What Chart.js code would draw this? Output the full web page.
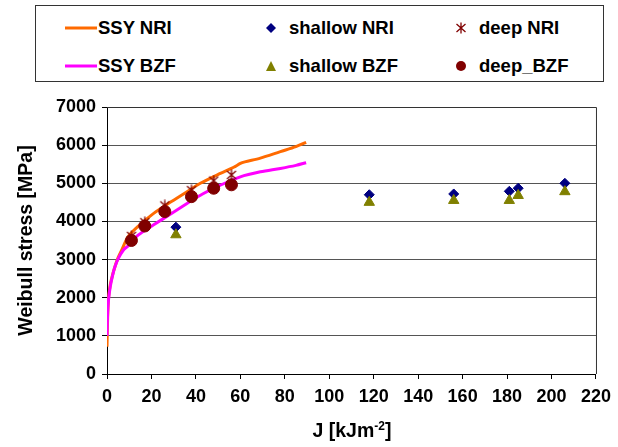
<!DOCTYPE html>
<html>
<head>
<meta charset="utf-8">
<script src="https://cdn.jsdelivr.net/npm/chart.js@4.4.0/dist/chart.umd.min.js"></script>
<style>
  body { margin: 0; background: #fff; font-family: 'Liberation Sans', Arial, sans-serif; }
  #wrap { position: relative; width: 618px; height: 447px; }
  #legend { position: absolute; left: 35px; top: 5px; width: 569px; height: 77px; border: 1px solid #333; box-sizing: border-box; background: #fff; }
  .item { position: absolute; font-weight: bold; font-size: 18.5px; line-height: 20px; color: #000; white-space: nowrap; }
  .icon { position: absolute; }
  #xtitle { position: absolute; left: 0; width: 704px; top: 419px; text-align: center; font-weight: bold; font-size: 19.5px; line-height: 22px; }
  #xtitle sup { font-size: 12px; vertical-align: 7px; line-height: 0; }
</style>
</head>
<body>
<div id="wrap">
  <canvas id="chart" width="618" height="447"></canvas>
  <div id="legend"></div>
  <div id="xtitle">J [kJm<sup>-2</sup>]</div>
</div>
<script>
// Dados
const ssyNriJ = [0, 0.3, 0.7, 1.5, 2.5, 3.5, 5, 7, 9.5, 14, 21, 29, 36, 42, 51, 57, 60, 62, 69, 78, 85, 89.6];
const ssyNriS = [716, 1500, 2000, 2350, 2600, 2800, 3050, 3300, 3600, 3870, 4210, 4520, 4780, 5000, 5260, 5420, 5520, 5560, 5660, 5830, 5960, 6075];

const ssyBzfJ = [0, 0.3, 0.7, 1.5, 2.5, 3.5, 5, 7.4, 9.5, 14, 21, 29, 36, 43, 51, 60, 69, 78, 85, 89.6];
const ssyBzfS = [1000, 1600, 1950, 2300, 2580, 2800, 3020, 3250, 3360, 3640, 3910, 4210, 4470, 4720, 4950, 5170, 5300, 5390, 5470, 5540];

const shallowJ = [31, 118, 156, 181, 185, 206];
const shallowNri = [3850, 4700, 4720, 4790, 4870, 5000];
const shallowBzf = [3650, 4500, 4550, 4550, 4680, 4780];

const deepJ = [11, 17, 26, 38, 48, 56];
const deepNri = [3620, 3980, 4420, 4820, 5070, 5220];
const deepBzf = [3500, 3880, 4260, 4650, 4870, 4960];

const xTicks = [0, 20, 40, 60, 80, 100, 120, 140, 160, 180, 200, 220];
const yTicks = [0, 1000, 2000, 3000, 4000, 5000, 6000, 7000];

const labels = ['SSY NRI', 'SSY BZF', 'shallow NRI', 'shallow BZF', 'deep NRI', 'deep_BZF'];
const orange = '#FF6A00';
const magenta = '#FF00FF';
const navy = '#000080';
const olive = '#808000';
const darkRed = '#800000';

function pts(xs, ys) {
    return xs.map((x, i) => ({ x: x, y: ys[i] }));
}

// asterisco de 6 pontas
const star = document.createElement('canvas');
star.width = 12; star.height = 12;
(function () {
    const c = star.getContext('2d');
    c.strokeStyle = darkRed;
    c.lineWidth = 1.3;
    c.beginPath();
    c.moveTo(6, 0.5); c.lineTo(6, 11.5);
    c.moveTo(1.5, 2); c.lineTo(10.5, 10);
    c.moveTo(10.5, 2); c.lineTo(1.5, 10);
    c.stroke();
})();

const frame = {
    id: 'frame',
    afterDraw(chart) {
        const a = chart.chartArea;
        const ctx = chart.ctx;
        ctx.save();
        ctx.strokeStyle = '#333';
        ctx.lineWidth = 1;
        ctx.beginPath();
        ctx.moveTo(a.left, a.top + 0.5);
        ctx.lineTo(a.right + 0.5, a.top + 0.5);
        ctx.lineTo(a.right + 0.5, a.bottom);
        ctx.stroke();
        ctx.restore();
    }
};

const tickFont = { family: 'Liberation Sans', size: 18, weight: 'bold' };

new Chart(document.getElementById('chart'), {
    type: 'scatter',
    data: {
        datasets: [
            { label: labels[0], data: pts(ssyNriJ, ssyNriS), showLine: true, borderColor: orange, backgroundColor: orange, borderWidth: 3, pointRadius: 0, tension: 0.3, order: 6 },
            { label: labels[1], data: pts(ssyBzfJ, ssyBzfS), showLine: true, borderColor: magenta, backgroundColor: magenta, borderWidth: 3, pointRadius: 0, tension: 0.3, order: 5 },
            { label: labels[2], data: pts(shallowJ, shallowNri), pointStyle: 'rectRot', pointRadius: 5, backgroundColor: navy, borderColor: navy, order: 4 },
            { label: labels[3], data: pts(shallowJ, shallowBzf), pointStyle: 'triangle', pointRadius: 6, backgroundColor: olive, borderColor: olive, order: 3 },
            { label: labels[4], data: pts(deepJ, deepNri), pointStyle: star, order: 2 },
            { label: labels[5], data: pts(deepJ, deepBzf), pointStyle: 'circle', pointRadius: 6, backgroundColor: darkRed, borderColor: darkRed, order: 1 }
        ]
    },
    options: {
        responsive: false,
        animation: false,
        layout: { padding: { top: 107, right: 22, left: 0, bottom: 0 } },
        plugins: { legend: { display: false }, tooltip: { enabled: false } },
        scales: {
            x: {
                type: 'linear', min: 0, max: 220,
                afterBuildTicks: (s) => { s.ticks = xTicks.map(v => ({ value: v })); },
                afterFit: (s) => { s.height = 73; },
                grid: { drawOnChartArea: false, drawTicks: true, tickLength: 5, tickColor: '#000' },
                border: { color: '#000' },
                ticks: { color: '#000', padding: 7, maxRotation: 0, font: tickFont, callback: (v) => String(v) }
            },
            y: {
                type: 'linear', min: 0, max: 7000,
                afterBuildTicks: (s) => { s.ticks = yTicks.map(v => ({ value: v })); },
                afterFit: (s) => { s.width = 107; },
                grid: { color: '#555', drawTicks: true, tickLength: 5, tickColor: '#000' },
                border: { color: '#000' },
                ticks: { color: '#000', padding: 6, font: tickFont, callback: (v) => String(v) },
                title: { display: true, text: 'Weibull stress [MPa]', color: '#000', padding: { top: 15, bottom: 0 }, font: { family: 'Liberation Sans', size: 19.5, weight: 'bold' } }
            }
        }
    },
    plugins: [frame]
});

// Legenda em HTML, 3 colunas x 2 linhas
const legend = document.getElementById('legend');
const textLeft = [62, 253, 443];
const rowY = [22, 60];
const icons = [
    `<svg width="32" height="6"><line x1="0" y1="3" x2="32" y2="3" stroke="${orange}" stroke-width="3"/></svg>`,
    `<svg width="32" height="6"><line x1="0" y1="3" x2="32" y2="3" stroke="${magenta}" stroke-width="3"/></svg>`,
    `<svg width="12" height="12"><polygon points="6,1 11,6 6,11 1,6" fill="${navy}"/></svg>`,
    `<svg width="12" height="12"><polygon points="6,1 11,11 1,11" fill="${olive}"/></svg>`,
    `<svg width="12" height="12"><path d="M6 0.5V11.5M1.5 2L10.5 10M10.5 2L1.5 10" stroke="${darkRed}" stroke-width="1.3"/></svg>`,
    `<svg width="12" height="12"><circle cx="6" cy="6" r="5" fill="${darkRed}"/></svg>`
];
labels.forEach((lab, i) => {
    const col = Math.floor(i / 2);
    const row = i % 2;
    const icon = document.createElement('div');
    icon.className = 'icon';
    icon.innerHTML = icons[i];
    if (col === 0) {
        icon.style.left = (textLeft[col] - 33) + 'px';
        icon.style.top = (rowY[row] - 3) + 'px';
    } else {
        icon.style.left = (textLeft[col] - 24) + 'px';
        icon.style.top = (rowY[row] - 6) + 'px';
    }
    icon.firstChild.style.display = 'block';
    legend.appendChild(icon);
    const t = document.createElement('div');
    t.className = 'item';
    t.textContent = lab;
    t.style.left = textLeft[col] + 'px';
    t.style.top = (rowY[row] - 10) + 'px';
    legend.appendChild(t);
});
</script>
</body>
</html>
